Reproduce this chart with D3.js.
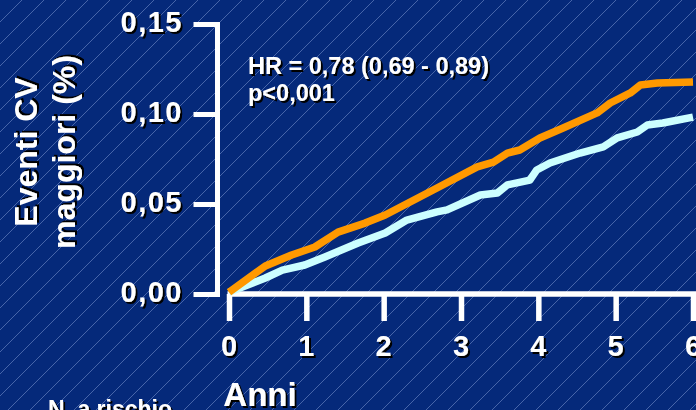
<!DOCTYPE html>
<html>
<head>
<meta charset="utf-8">
<script src="https://cdn.jsdelivr.net/npm/d3@7"></script>
<style>
  html, body { margin: 0; padding: 0; background: #05297a; }
  svg { display: block; }
  text { font-family: "Liberation Sans", Arial, sans-serif; font-weight: bold; fill: #fff; }
</style>
</head>
<body>
<svg id="chart" width="696" height="410"></svg>
<script>
// Cumulative major CV events by year of follow-up
const yearsControl = [0, 0.47, 0.81, 1.11, 1.41, 1.76, 2.02, 2.64, 3.21, 3.42, 3.60, 3.76, 4.02, 4.32, 4.76, 4.93, 5.19, 5.32, 5.54, 6.00];
const eventsControl = [0.001, 0.0156, 0.0217, 0.0261, 0.0344, 0.0394, 0.0439, 0.0578, 0.0706, 0.0733, 0.0783, 0.0800, 0.0867, 0.0922, 0.1006, 0.1061, 0.1117, 0.1161, 0.1172, 0.1178];

const yearsTreated = [0, 0.47, 0.69, 0.98, 1.24, 1.67, 2.02, 2.30, 2.69, 2.82, 3.25, 3.47, 3.60, 3.89, 3.98, 4.15, 4.54, 4.84, 5.02, 5.28, 5.41, 5.61, 6.00];
const eventsTreated = [0.001, 0.0089, 0.0133, 0.0161, 0.0206, 0.0283, 0.0339, 0.0411, 0.0456, 0.0467, 0.0550, 0.0561, 0.0606, 0.0633, 0.0689, 0.0728, 0.0783, 0.0817, 0.0867, 0.0900, 0.0939, 0.0950, 0.0983];

const xTicks = [0, 1, 2, 3, 4, 5, 6];
const yTicks = [0, 0.05, 0.10, 0.15];

const svg = d3.select("#chart");
const W = 696, H = 410;

const defs = svg.append("defs");

// Fine diagonal hatching on the background
const pat = defs.append("pattern")
  .attr("id", "hatch")
  .attr("patternUnits", "userSpaceOnUse")
  .attr("width", 22).attr("height", 22);
pat.append("rect").attr("width", 22).attr("height", 22).attr("fill", "#05297a");
pat.append("path")
  .attr("d", "M-2,2 L2,-2 M0,22 L22,0 M20,24 L24,20")
  .attr("stroke", "rgba(170,190,240,0.5)")
  .attr("stroke-width", 0.8);
svg.append("rect").attr("width", W).attr("height", H).attr("fill", "url(#hatch)");

// Hard black drop shadow for labels
const shadow = defs.append("filter").attr("id", "shadow")
  .attr("x", "-10%").attr("y", "-20%").attr("width", "130%").attr("height", "150%");
shadow.append("feDropShadow")
  .attr("dx", 2).attr("dy", 2).attr("stdDeviation", 0.3)
  .attr("flood-color", "#000").attr("flood-opacity", 1);

const x = d3.scaleLinear().domain([0, 6]).range([229, 693]);
const y = d3.scaleLinear().domain([0, 0.15]).range([294, 24]);

const itFmt = d3.formatLocale({ decimal: ",", thousands: ".", grouping: [3], currency: ["", "€"] }).format(".2f");

function label(g, tx, ty, str, size, anchor) {
  return g.append("text")
    .attr("x", tx).attr("y", ty)
    .attr("font-size", size)
    .attr("text-anchor", anchor)
    .attr("filter", "url(#shadow)")
    .text(str);
}

// Y axis
const yAxis = svg.append("g")
  .attr("transform", "translate(217,0)")
  .call(d3.axisLeft(y).tickValues(yTicks).tickSize(21).tickSizeOuter(0).tickFormat(""));
yAxis.selectAll("path, line")
  .attr("stroke", "#fff").attr("stroke-width", 5).attr("stroke-linecap", "square");

yTicks.forEach(v => {
  label(svg, 183, y(v) + 8, itFmt(v), 29, "end").attr("letter-spacing", 1.5);
});

// X axis
const xAxis = svg.append("g")
  .attr("transform", "translate(0,294)")
  .call(d3.axisBottom(x).tickValues(xTicks).tickSize(27).tickSizeOuter(0).tickFormat(""));
xAxis.select("path.domain").attr("d", "M227.5,0H696");
xAxis.selectAll("path, line")
  .attr("stroke", "#fff").attr("stroke-width", 5.5);

xTicks.forEach(v => {
  label(svg, x(v), 356, String(v), 29, "middle");
});

label(svg, 260, 406, "Anni", 33, "middle");

// Y title (two lines, rotated)
[["Eventi CV", 37], ["maggiori (%)", 75]].forEach(([s, bx]) => {
  const gg = svg.append("g").attr("transform", `translate(${bx},152) rotate(-90)`);
  label(gg, 0, 0, s, 32, "middle");
});

// Curves
const line = d3.line().x(d => x(d[0])).y(d => y(d[1])).curve(d3.curveLinear);
const treated = yearsTreated.map((t, i) => [t, eventsTreated[i]]);
const control = yearsControl.map((t, i) => [t, eventsControl[i]]);

svg.append("path").datum(treated)
  .attr("d", line).attr("fill", "none")
  .attr("stroke", "#ccffff").attr("stroke-width", 7.5).attr("stroke-linejoin", "round");
svg.append("path").datum(control)
  .attr("d", line).attr("fill", "none")
  .attr("stroke", "#ff9900").attr("stroke-width", 7.5).attr("stroke-linejoin", "round");

// Annotation
label(svg, 248, 74, "HR = 0,78 (0,69 - 0,89)", 23.5, "start");
label(svg, 248, 101, "p<0,001", 23.5, "start");

// Numbers at risk header
label(svg, 48, 417, "N. a rischio", 23, "start");
</script>
</body>
</html>
